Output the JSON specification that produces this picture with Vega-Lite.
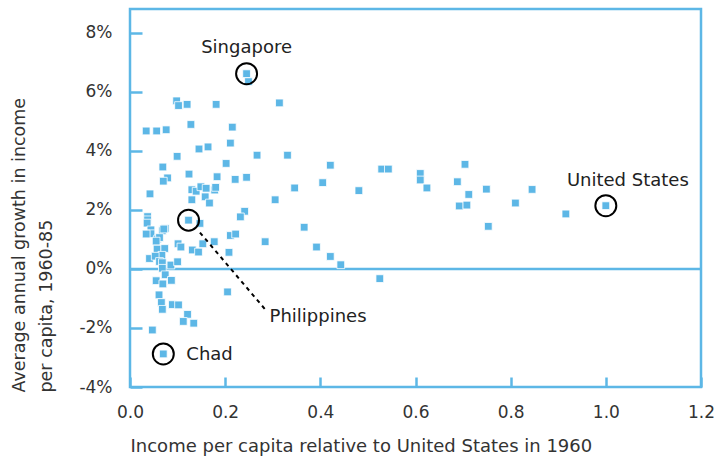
{
  "$schema": "https://vega.github.io/schema/vega-lite/v6.json",
  "width": 571,
  "height": 378,
  "autosize": {"type": "none"},
  "padding": {"left": 130, "top": 9, "right": 13, "bottom": 72},
  "background": "white",
  "config": {
    "view": {"stroke": "#5db7e6", "strokeWidth": 2.5},
    "font": "DejaVu Sans"
  },
  "datasets": {
    "countries": [
      {"x": 0.245, "y": 0.0661, "country": "Singapore"},
      {"x": 0.249, "y": 0.0634},
      {"x": 0.314, "y": 0.0562},
      {"x": 0.098, "y": 0.0569},
      {"x": 0.102, "y": 0.0553},
      {"x": 0.120, "y": 0.0557},
      {"x": 0.181, "y": 0.0557},
      {"x": 0.034, "y": 0.0467},
      {"x": 0.056, "y": 0.0467},
      {"x": 0.076, "y": 0.0471},
      {"x": 0.128, "y": 0.0489},
      {"x": 0.215, "y": 0.0480},
      {"x": 0.211, "y": 0.0426},
      {"x": 0.145, "y": 0.0406},
      {"x": 0.164, "y": 0.0413},
      {"x": 0.099, "y": 0.0381},
      {"x": 0.267, "y": 0.0385},
      {"x": 0.331, "y": 0.0385},
      {"x": 0.202, "y": 0.0357},
      {"x": 0.421, "y": 0.0351},
      {"x": 0.069, "y": 0.0345},
      {"x": 0.124, "y": 0.0321},
      {"x": 0.183, "y": 0.0312},
      {"x": 0.221, "y": 0.0303},
      {"x": 0.245, "y": 0.0310},
      {"x": 0.079, "y": 0.0308},
      {"x": 0.070, "y": 0.0297},
      {"x": 0.346, "y": 0.0274},
      {"x": 0.405, "y": 0.0292},
      {"x": 0.481, "y": 0.0265},
      {"x": 0.305, "y": 0.0234},
      {"x": 0.042, "y": 0.0254},
      {"x": 0.130, "y": 0.0268},
      {"x": 0.139, "y": 0.0263},
      {"x": 0.149, "y": 0.0278},
      {"x": 0.160, "y": 0.0273},
      {"x": 0.178, "y": 0.0267},
      {"x": 0.180, "y": 0.0276},
      {"x": 0.130, "y": 0.0234},
      {"x": 0.158, "y": 0.0244},
      {"x": 0.167, "y": 0.0223},
      {"x": 0.241, "y": 0.0195},
      {"x": 0.232, "y": 0.0176},
      {"x": 0.366, "y": 0.0141},
      {"x": 0.037, "y": 0.0177},
      {"x": 0.037, "y": 0.0166},
      {"x": 0.036, "y": 0.0155},
      {"x": 0.123, "y": 0.0165, "country": "Philippines"},
      {"x": 0.147, "y": 0.0154},
      {"x": 0.044, "y": 0.0132},
      {"x": 0.044, "y": 0.0119},
      {"x": 0.034, "y": 0.0118},
      {"x": 0.074, "y": 0.0137},
      {"x": 0.068, "y": 0.0129},
      {"x": 0.071, "y": 0.0135},
      {"x": 0.058, "y": 0.0101},
      {"x": 0.062, "y": 0.0106},
      {"x": 0.055, "y": 0.0094},
      {"x": 0.101, "y": 0.0085},
      {"x": 0.107, "y": 0.0074},
      {"x": 0.131, "y": 0.0064},
      {"x": 0.144, "y": 0.0057},
      {"x": 0.153, "y": 0.0085},
      {"x": 0.177, "y": 0.0092},
      {"x": 0.208, "y": 0.0056},
      {"x": 0.211, "y": 0.0113},
      {"x": 0.222, "y": 0.0118},
      {"x": 0.284, "y": 0.0092},
      {"x": 0.392, "y": 0.0074},
      {"x": 0.421, "y": 0.0042},
      {"x": 0.443, "y": 0.0014},
      {"x": 0.057, "y": 0.0067},
      {"x": 0.073, "y": 0.0069},
      {"x": 0.067, "y": 0.0046},
      {"x": 0.041, "y": 0.0035},
      {"x": 0.053, "y": 0.0043},
      {"x": 0.062, "y": 0.0025},
      {"x": 0.086, "y": 0.0013},
      {"x": 0.100, "y": 0.0024},
      {"x": 0.068, "y": 0.0021},
      {"x": 0.068, "y": 0.0002},
      {"x": 0.074, "y": -0.0020},
      {"x": 0.055, "y": -0.0040},
      {"x": 0.069, "y": -0.0051},
      {"x": 0.087, "y": -0.0039},
      {"x": 0.205, "y": -0.0078},
      {"x": 0.061, "y": -0.0088},
      {"x": 0.066, "y": -0.0114},
      {"x": 0.068, "y": -0.0137},
      {"x": 0.089, "y": -0.0121},
      {"x": 0.102, "y": -0.0122},
      {"x": 0.121, "y": -0.0154},
      {"x": 0.112, "y": -0.0178},
      {"x": 0.134, "y": -0.0184},
      {"x": 0.047, "y": -0.0207},
      {"x": 0.070, "y": -0.0288, "country": "Chad"},
      {"x": 0.529, "y": 0.0338},
      {"x": 0.543, "y": 0.0338},
      {"x": 0.610, "y": 0.0323},
      {"x": 0.610, "y": 0.0301},
      {"x": 0.624, "y": 0.0274},
      {"x": 0.704, "y": 0.0354},
      {"x": 0.688, "y": 0.0295},
      {"x": 0.712, "y": 0.0252},
      {"x": 0.692, "y": 0.0213},
      {"x": 0.708, "y": 0.0216},
      {"x": 0.749, "y": 0.0270},
      {"x": 0.753, "y": 0.0144},
      {"x": 0.810, "y": 0.0223},
      {"x": 0.845, "y": 0.0269},
      {"x": 0.916, "y": 0.0186},
      {"x": 1.0, "y": 0.0214, "country": "United States"},
      {"x": 0.525, "y": -0.0033}
    ],
    "zero": [{"x": 0, "x2": 1.2, "y": 0}],
    "leader": [{"x": 0.147, "y": 0.0123}, {"x": 0.284, "y": -0.0137}]
  },
  "encoding": {
    "x": {
      "field": "x",
      "type": "quantitative",
      "scale": {"domain": [0, 1.2], "nice": false, "zero": false},
      "axis": {
        "values": [0, 0.2, 0.4, 0.6, 0.8, 1.0, 1.2],
        "format": ".1f",
        "title": "Income per capita relative to United States in 1960",
        "domain": false,
        "grid": false,
        "tickColor": "#5db7e6",
        "tickWidth": 2.5,
        "tickSize": -10,
        "labelPadding": 27,
        "labelFlush": false,
        "labelFontSize": 17,
        "labelColor": "#333333",
        "labelFont": "DejaVu Sans",
        "titleFont": "DejaVu Sans",
        "titleFontSize": 18,
        "titleFontWeight": "normal",
        "titleColor": "#333333",
        "titleAnchor": "start",
        "titleAlign": "left",
        "titleBaseline": "middle",
        "titleX": 0,
        "titleY": 59
      }
    },
    "y": {
      "field": "y",
      "type": "quantitative",
      "scale": {"domain": [-0.04, 0.088], "nice": false, "zero": false},
      "axis": {
        "values": [-0.04, -0.02, 0, 0.02, 0.04, 0.06, 0.08],
        "labelExpr": "replace(format(datum.value, '.0%'), '\u2212', '-')",
        "title": ["Average annual growth in income", "per capita, 1960-85"],
        "domain": false,
        "grid": false,
        "labelFlush": false,
        "tickColor": "#5db7e6",
        "tickWidth": 2.5,
        "tickSize": -12,
        "labelPadding": 30,
        "labelFontSize": 17,
        "labelColor": "#333333",
        "labelFont": "DejaVu Sans",
        "titleFont": "DejaVu Sans",
        "titleFontSize": 17.5,
        "titleFontWeight": "normal",
        "titleColor": "#333333",
        "titleAngle": -90,
        "titleAlign": "left",
        "titleBaseline": "middle",
        "titleLineHeight": 27,
        "titleX": -111,
        "titleY": 383
      }
    }
  },
  "layer": [
    {
      "data": {"name": "zero"},
      "mark": {"type": "rule", "color": "#5db7e6", "strokeWidth": 2.5},
      "encoding": {"x2": {"field": "x2"}}
    },
    {
      "data": {"name": "countries"},
      "mark": {"type": "point", "shape": "square", "filled": true, "fill": "#5db7e6", "stroke": "white", "strokeWidth": 0.8, "size": 60, "opacity": 1}
    },
    {
      "data": {"name": "countries"},
      "transform": [{"filter": "isValid(datum.country)"}],
      "mark": {"type": "point", "shape": "circle", "filled": false, "stroke": "black", "strokeWidth": 2, "size": 440, "opacity": 1}
    },
    {
      "data": {"name": "leader"},
      "mark": {"type": "line", "stroke": "black", "strokeWidth": 2, "strokeDash": [4, 4]}
    },
    {
      "data": {"name": "countries"},
      "transform": [{"filter": "datum.country === 'Singapore'"}],
      "mark": {"type": "text", "fontSize": 18, "color": "#222222", "align": "center", "baseline": "middle", "dy": -26},
      "encoding": {"text": {"field": "country"}}
    },
    {
      "data": {"name": "countries"},
      "transform": [{"filter": "datum.country === 'United States'"}],
      "mark": {"type": "text", "fontSize": 18, "color": "#222222", "align": "center", "baseline": "middle", "dx": 22, "dy": -25},
      "encoding": {"text": {"field": "country"}}
    },
    {
      "data": {"name": "countries"},
      "transform": [{"filter": "datum.country === 'Philippines'"}],
      "mark": {"type": "text", "fontSize": 18, "color": "#222222", "align": "left", "baseline": "middle", "dx": 81, "dy": 97},
      "encoding": {"text": {"field": "country"}}
    },
    {
      "data": {"name": "countries"},
      "transform": [{"filter": "datum.country === 'Chad'"}],
      "mark": {"type": "text", "fontSize": 18, "color": "#222222", "align": "left", "baseline": "middle", "dx": 23, "dy": 1},
      "encoding": {"text": {"field": "country"}}
    }
  ]
}
